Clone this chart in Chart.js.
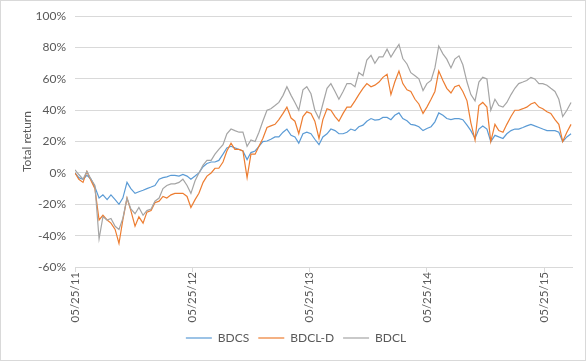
<!DOCTYPE html>
<html>
<head>
<meta charset="utf-8">
<script src="https://cdn.jsdelivr.net/npm/chart.js@4"></script>
<style>
  body { margin: 0; background: #fff; }
  #wrap { width: 586px; height: 361px; position: relative; }
</style>
</head>
<body>
<div id="wrap"><canvas id="grafico"></canvas></div>
<script>
// days since 05/25/11 for each sampled point
var dayOffsets = [0,12,25,37,50,62,75,87,100,112,125,137,149,162,174,187,199,212,224,237,
  249,262,274,286,299,311,324,336,349,361,374,386,399,411,424,436,448,461,473,486,
  498,511,523,536,548,561,573,585,598,610,623,635,648,660,673,685,697,710,722,735,
  747,760,772,785,797,810,822,835,847,859,872,884,897,909,922,934,947,959,972,984,
  996,1009,1021,1034,1046,1059,1071,1084,1096,1109,1121,1133,1146,1158,1171,1183,1196,1208,1221,1233,
  1246,1258,1270,1283,1295,1308,1320,1333,1345,1358,1370,1382,1395,1407,1420,1432,1445,1457,1470,1482,
  1495,1507,1519,1532,1545];

// total return, %
var bdcs = [0,-3,-4,-1.5,-4,-9,-16,-14,-17,-14,-17,-20,-16,-6,-10,-13,-12,-11,-10,-9,
  -8,-4,-3,-2.5,-1.5,-1.5,-2,-1,-2,-4,-2,0,4,6,7,7,8,12,16,17,
  16,15,14,8.5,13,14,17,20,20.4,21.5,23,23,26,28,24,23,19,25,26,25,
  21.5,18,23,25,28,27,25,25,26,28,27,29.5,30.5,33,34.7,33.7,34,35.4,35.4,34,
  36.8,38.3,34.7,33.3,31,30.5,29.5,27,28.4,29.5,32.6,38.3,36.8,34.7,34,34.7,34.7,34,30.5,27,
  22,28,30,28,20,24,23,22,25,27,28,28,29,30,31,30,29,28,27,27,
  27,26,20,23,25];

var bdclD = [0,-4,-6,1,-5,-10,-30,-27,-30,-32,-36,-45,-30,-16,-24,-34,-28,-32,-25,-24,
  -19,-18,-15,-16,-14,-13,-13,-13,-15,-22,-17,-13,-6,-2,0,3,3,7,14,19,
  15,15,14,-3,12,12,17,22,29,30,31,34,38,42,35,33,25,36,39,38,
  33,22,34,41,40,36,33,38,42,42,46,50,54,57,55,56,58,61,63,50,
  58,65,57,53,52,47,44,38,42,47,52,65,59,54,51,55,56,52,46,32,
  21,43,45,42,20,31,27,26,31,36,40,40,41,42,44,45,42,41,39,38,
  34,31,20,26,31];

var bdcl = [2,-1,-4,1,-4,-8,-42,-28,-30,-29,-34,-36,-29,-16,-23,-26,-22,-27,-24,-23,
  -18,-16,-10,-8,-7,-7,-6,-4,-8,-13,-5,0,5,8,8,12,15,18,25,28,
  27,26,26,17,21,20,26,33,40,41,43,45,49.5,55,49.5,45,40,53,55,50.5,
  40,34.7,44,54,57,52,47,52,57,57,55,64,62,72,75,70,74,74,79,74,
  78,82,73,69.5,64,62,60,52.6,57,59,67,81,76,72.6,67,72.6,74.7,69,58,50,
  46,58,61,60,40,47,43,42,45,50,54,57,58,59,61,60,57,57,56,54,
  52,47,36,40,45];

var tickDays = [0, 366, 731, 1096, 1461];
var tickLabels = ['05/25/11', '05/25/12', '05/25/13', '05/25/14', '05/25/15'];
var seriesNames = ['BDCS', 'BDCL-D', 'BDCL'];
var seriesColors = ['#5B9BD5', '#ED7D31', '#A5A5A5'];

function pontos(valores) {
    return valores.map(function (v, i) { return { x: dayOffsets[i], y: v }; });
}

// moldura cinza em volta do gráfico
var moldura = {
    id: 'moldura',
    afterDraw: function (chart) {
        var ctx = chart.ctx;
        ctx.save();
        ctx.strokeStyle = '#d9d9d9';
        ctx.lineWidth = 1;
        ctx.strokeRect(0.5, 0.5, chart.width - 1, chart.height - 1);
        ctx.restore();
    }
};

Chart.defaults.font.family = 'Lato, "Liberation Sans", sans-serif';
Chart.defaults.font.size = 12;
Chart.defaults.color = '#595959';

var series = [bdcs, bdclD, bdcl];
var ctx = document.getElementById('grafico').getContext('2d');
var grafico = new Chart(ctx, {
    type: 'line',
    data: {
        datasets: series.map(function (s, i) {
            return {
                label: seriesNames[i],
                data: pontos(s),
                borderColor: seriesColors[i],
                backgroundColor: seriesColors[i],
                borderWidth: 1.2,
                pointRadius: 0,
                pointStyle: 'line',
                tension: 0,
                order: 2 - i
            };
        })
    },
    options: {
        responsive: true,
        maintainAspectRatio: false,
        animation: false,
        layout: { padding: { left: 20, right: 14, top: 13, bottom: 7 } },
        plugins: {
            tooltip: { enabled: false },
            legend: {
                position: 'bottom',
                labels: {
                    usePointStyle: true,
                    pointStyleWidth: 26,
                    padding: 9,
                    sort: function (a, b) { return a.datasetIndex - b.datasetIndex; }
                }
            }
        },
        scales: {
            x: {
                type: 'linear',
                min: 0,
                max: 1548,
                afterBuildTicks: function (axis) {
                    axis.ticks = tickDays.map(function (d) { return { value: d }; });
                },
                afterFit: function (axis) { axis.height = 56; },
                ticks: {
                    minRotation: 90,
                    maxRotation: 90,
                    autoSkip: false,
                    padding: 0,
                    font: { size: 11.5 },
                    callback: function (v) {
                        var i = tickDays.indexOf(v);
                        return i >= 0 ? tickLabels[i] : '';
                    }
                },
                grid: { drawOnChartArea: false, drawTicks: true, tickLength: 5, color: '#d9d9d9' },
                border: { color: '#d9d9d9' }
            },
            y: {
                min: -60,
                max: 100,
                afterFit: function (axis) { axis.width = 55; },
                ticks: {
                    stepSize: 20,
                    padding: 9,
                    callback: function (v) { return v + '%'; }
                },
                grid: { color: '#d9d9d9', drawTicks: false },
                border: { display: false },
                title: { display: true, text: 'Total return', padding: 0 }
            }
        }
    },
    plugins: [moldura]
});
</script>
</body>
</html>
